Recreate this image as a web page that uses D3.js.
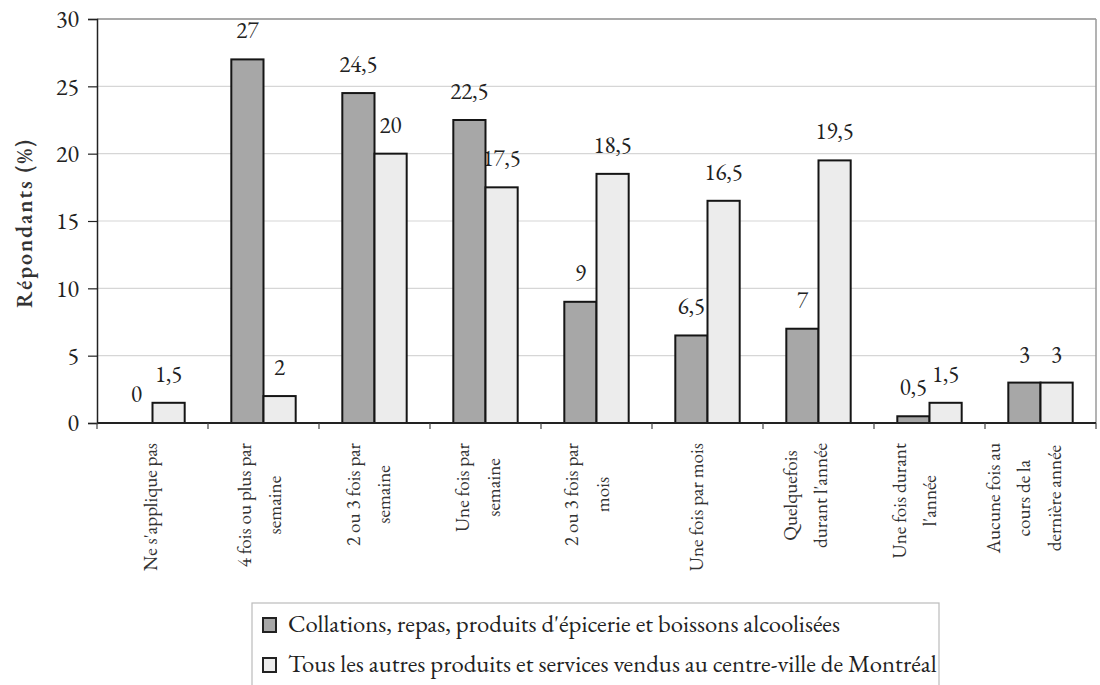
<!DOCTYPE html>
<html>
<head>
<meta charset="utf-8">
<script src="https://cdn.jsdelivr.net/npm/d3@7"></script>
<style>
  html, body { margin: 0; padding: 0; background: #fff; }
  svg { display: block; }
</style>
</head>
<body>
<svg id="chart" width="1100" height="685"></svg>
<script>
// Fréquence d'achat au centre-ville de Montréal
const categories = [
  "Ne s'applique pas",
  "4 fois ou plus par semaine",
  "2 ou 3 fois par semaine",
  "Une fois par semaine",
  "2 ou 3 fois par mois",
  "Une fois par mois",
  "Quelquefois durant l'année",
  "Une fois durant l'année",
  "Aucune fois au cours de la dernière année"
];
// Line breaks used for the rotated category labels
const categoryLines = [
  ["Ne s'applique pas"],
  ["4 fois ou plus par", "semaine"],
  ["2 ou 3 fois par", "semaine"],
  ["Une fois par", "semaine"],
  ["2 ou 3 fois par", "mois"],
  ["Une fois par mois"],
  ["Quelquefois", "durant l'année"],
  ["Une fois durant", "l'année"],
  ["Aucune fois au", "cours de la", "dernière année"]
];
const seriesNames = [
  "Collations, repas, produits d'épicerie et boissons alcoolisées",
  "Tous les autres produits et services vendus au centre-ville de Montréal"
];
const collations = [0, 27, 24.5, 22.5, 9, 6.5, 7, 0.5, 3];
const autres = [1.5, 2, 20, 17.5, 18.5, 16.5, 19.5, 1.5, 3];
const yTicks = [0, 5, 10, 15, 20, 25, 30];
const yTitle = "Répondants (%)";

const seriesValues = [collations, autres];
const seriesFill = ["#a7a7a7", "#ececec"];
const FONT = "'EB Garamond', 'Liberation Serif', 'DejaVu Serif', serif";

const svg = d3.select("#chart").attr("font-family", FONT);
const plotLeft = 97, plotRight = 1096, plotTop = 19, plotBottom = 423;

// returns the width of a string at a given size in the chart font
function textWidth(str, size) {
  const t = svg.append("text").attr("font-family", FONT).attr("font-size", size).text(str);
  const w = t.node().getComputedTextLength();
  t.remove();
  return w;
}
// font size that gives a string the wanted width
const fitSize = (str, width) => 20 * width / textWidth(str, 20);

const x0 = d3.scaleBand().domain(categories).range([plotLeft, plotRight]).padding(0);
const groupW = x0.bandwidth() * 0.58;
const x1 = d3.scaleBand().domain(d3.range(seriesNames.length)).range([0, groupW]).padding(0);
const y = d3.scaleLinear().domain([0, 30]).range([plotBottom, plotTop]);
// category labels sit on a slightly tighter pitch than the bars
const xLabel = d3.scaleBand().domain(categories).range([plotLeft, plotRight - 16]).padding(0);

const fr = d3.formatLocale({ decimal: ",", thousands: " ", grouping: [3], currency: ["", " $"] });
const fmt = v => (Number.isInteger(v) ? String(v) : fr.format(".1f")(v));
const barX = (i, s) => x0(categories[i]) + x0.bandwidth() / 2 - groupW / 2 + x1(s);

// gridlines
svg.append("g").selectAll("line")
  .data(yTicks.filter(t => t > 0 && t < 30))
  .join("line")
  .attr("x1", plotLeft).attr("x2", plotRight)
  .attr("y1", d => y(d)).attr("y2", d => y(d))
  .attr("stroke", "#d6d6d6").attr("stroke-width", 1.2);

// plot frame (top and right)
svg.append("line").attr("x1", plotLeft).attr("x2", plotRight).attr("y1", y(30)).attr("y2", y(30))
  .attr("stroke", "#8c8c8c").attr("stroke-width", 1.5);
svg.append("line").attr("x1", plotRight).attr("x2", plotRight).attr("y1", y(30)).attr("y2", plotBottom)
  .attr("stroke", "#9a9a9a").attr("stroke-width", 1.5);

// value labels (drawn beneath the bars)
const labelG = svg.append("g").attr("font-family", FONT).attr("font-size", 23)
  .attr("fill", "#222").attr("text-anchor", "middle");
seriesValues.forEach((vals, s) => {
  labelG.selectAll(null).data(vals).join("text")
    .attr("x", (d, i) => barX(i, s) + x1.bandwidth() / 2)
    .attr("y", d => y(d) - 21)
    .text(d => fmt(d));
});

// bars
seriesValues.forEach((vals, s) => {
  svg.append("g").selectAll("rect")
    .data(vals.map((v, i) => ({ v, i })).filter(d => d.v > 0))
    .join("rect")
    .attr("x", d => barX(d.i, s))
    .attr("width", x1.bandwidth())
    .attr("y", d => y(d.v))
    .attr("height", d => y(0) - y(d.v))
    .attr("fill", seriesFill[s])
    .attr("stroke", "#151515").attr("stroke-width", 2);
});

// y axis
const yAxis = d3.axisLeft(y).tickValues(yTicks).tickSize(9).tickPadding(9);
const gy = svg.append("g").attr("transform", `translate(${plotLeft},0)`).call(yAxis)
  .attr("font-family", FONT).attr("font-size", 24);
gy.select(".domain").attr("stroke", "#222").attr("stroke-width", 1.5);
gy.selectAll(".tick line").attr("stroke", "#222").attr("stroke-width", 1.2);
gy.selectAll(".tick text").attr("fill", "#222");

// x axis line and boundary ticks
svg.append("line").attr("x1", plotLeft).attr("x2", plotRight).attr("y1", plotBottom).attr("y2", plotBottom)
  .attr("stroke", "#222").attr("stroke-width", 1.8);
svg.append("g").selectAll("line")
  .data(categories.map(c => x0(c)).concat([plotRight]))
  .join("line")
  .attr("x1", d => d).attr("x2", d => d)
  .attr("y1", plotBottom).attr("y2", plotBottom + 6)
  .attr("stroke", "#444").attr("stroke-width", 1.2);

// rotated category labels
const catSize = fitSize(categoryLines[0][0], 128);
const xl = svg.append("g").attr("font-family", FONT).attr("font-size", catSize).attr("fill", "#333");
categoryLines.forEach((lines, i) => {
  const cx = xLabel(categories[i]) + xLabel.bandwidth() / 2;
  const g = xl.append("g").attr("transform", `translate(${cx},443) rotate(-90)`);
  const texts = lines.map((ln, j) =>
    g.append("text")
      .attr("text-anchor", "middle")
      .attr("y", (j - (lines.length - 1) / 2) * 30.5 + 5)
      .text(ln));
  const maxW = d3.max(texts, t => t.node().getComputedTextLength());
  texts.forEach(t => t.attr("x", -maxW / 2));
});

// y title
svg.append("text")
  .attr("transform", `translate(32,224) rotate(-90)`)
  .attr("text-anchor", "middle")
  .attr("font-family", FONT)
  .attr("font-size", 22).attr("font-weight", 600)
  .attr("textLength", 168).attr("lengthAdjust", "spacing")
  .attr("fill", "#333")
  .text(yTitle);

// legend
const legSize = fitSize(seriesNames[1], 649);
const lg = svg.append("g");
lg.append("rect").attr("x", 252).attr("y", 603).attr("width", 687).attr("height", 90)
  .attr("fill", "#fff").attr("stroke", "#bbb").attr("stroke-width", 1.2);
seriesNames.forEach((name, s) => {
  const yy = 618 + s * 40;
  lg.append("rect").attr("x", 263).attr("y", yy).attr("width", 13).attr("height", 14)
    .attr("fill", seriesFill[s]).attr("stroke", "#222").attr("stroke-width", 2);
  lg.append("text").attr("x", 288).attr("y", yy + 14)
    .attr("font-family", FONT).attr("font-size", legSize).attr("fill", "#222")
    .text(name);
});
</script>
</body>
</html>
